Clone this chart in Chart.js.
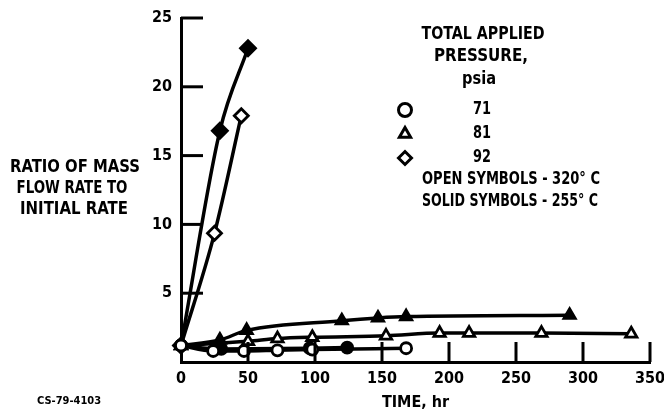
<!DOCTYPE html>
<html><head><meta charset="utf-8">
<script src="https://cdn.jsdelivr.net/npm/chart.js@4/dist/chart.umd.min.js"></script>
<style>html,body{margin:0;padding:0;background:#fff}</style>
</head><body>
<canvas id="c" width="664" height="420"></canvas>
<script>
// ---- data ----
const xTicks = [0, 50, 100, 150, 200, 250, 300, 350];
const yTicks = [0, 5, 10, 15, 20, 25];
const legendPressures = ['71', '81', '92'];
// [time hr, ratio]
const open71  = [[0,1.2],[24,0.8],[47,0.8],[72,0.85],[98,0.9],[168,1.0]];
const solid71 = [[0,1.2],[30,0.95],[96,1.0],[124,1.05]];
const open81  = [[0,1.2],[50,1.5],[72,1.7],[98,1.8],[153,1.9],[193,2.1],[215,2.1],[269,2.1],[336,2.05]];
const solid81 = [[0,1.2],[29,1.6],[49,2.3],[120,3.0],[147,3.2],[168,3.3],[290,3.4]];
const open92  = [[0,1.2],[25,9.35],[45,17.9]];
const solid92 = [[0,1.2],[29,16.8],[50,22.8]];

const FONT = "'Liberation Sans Narrow', 'DejaVu Sans Condensed', 'Roboto Condensed', sans-serif";
const pts = a => a.map(p => ({x: p[0], y: p[1]}));

function ds(data, style, solid, r) {
  return {
    data: pts(data),
    borderColor: '#000',
    borderWidth: 3.5,
    pointStyle: style,
    pointRadius: r,
    pointBorderWidth: 2.8,
    pointBorderColor: '#000',
    pointBackgroundColor: solid ? '#000' : '#fff',
    cubicInterpolationMode: 'monotone',
    fill: false,
    clip: false
  };
}

const decor = {
  id: 'decor',
  afterDatasetsDraw(chart) {
    const ctx = chart.ctx;
    const xs = chart.scales.x, ys = chart.scales.y;
    const a = chart.chartArea;
    ctx.save();
    ctx.strokeStyle = '#000';
    ctx.lineWidth = 3;
    // inward tick marks
    xTicks.forEach(v => { if (v === 0) return;
      const px = xs.getPixelForValue(v);
      ctx.beginPath(); ctx.moveTo(px, a.bottom); ctx.lineTo(px, a.bottom - 20); ctx.stroke(); });
    yTicks.forEach(v => { if (v === 0) return;
      const py = ys.getPixelForValue(v);
      ctx.beginPath(); ctx.moveTo(a.left, py); ctx.lineTo(a.left + 22, py); ctx.stroke(); });

    ctx.fillStyle = '#000';
    ctx.textBaseline = 'middle';
    // y-axis title (horizontal, three lines)
    ctx.textAlign = 'center';
    ctx.font = 'bold 18px ' + FONT;
    ctx.fillText('RATIO OF MASS', 75, 167, 130);
    ctx.fillText('FLOW RATE TO', 72, 188, 111);
    ctx.fillText('INITIAL RATE', 74, 209, 108);
    // legend header
    ctx.font = 'bold 17px ' + FONT;
    ctx.fillText('TOTAL APPLIED', 483, 35, 123);
    ctx.fillText('PRESSURE,', 481, 57, 94);
    ctx.fillText('psia', 479, 80, 34);
    // legend symbols and values
    const styles = ['circle', 'triangle', 'rectRot'];
    legendPressures.forEach((p, i) => {
      const y = 110 + i * 24;
      ctx.fillStyle = '#fff';
      ctx.lineWidth = 3;
      Chart.helpers.drawPoint(ctx, {pointStyle: styles[i], radius: 6.5, borderWidth: 3, rotation: 0}, 405, y);
      ctx.fillStyle = '#000';
      ctx.font = 'bold 17px ' + FONT;
      ctx.textAlign = 'center';
      ctx.fillText(p, 482, y, 18);
    });
    ctx.textAlign = 'left';
    ctx.font = 'bold 17px ' + FONT;
    ctx.fillText('OPEN SYMBOLS - 320\u00B0 C', 422, 180, 178);
    ctx.fillText('SOLID SYMBOLS - 255\u00B0 C', 422, 202, 176);
    // figure code
    ctx.font = 'bold 11px ' + FONT;
    ctx.fillText('CS-79-4103', 37, 401, 75);
    ctx.restore();
  }
};

new Chart(document.getElementById('c'), {
  type: 'line',
  data: { datasets: [
    ds(open71, 'circle', false, 5.5),
    ds(solid71, 'circle', true, 5.5),
    ds(open81, 'triangle', false, 6.5),
    ds(solid81, 'triangle', true, 6.5),
    ds(open92, 'rectRot', false, 7),
    ds(solid92, 'rectRot', true, 7.5)
  ]},
  options: {
    responsive: false,
    animation: false,
    devicePixelRatio: 1,
    layout: { padding: { left: 0, top: 18, right: 14, bottom: 0 } },
    plugins: { legend: { display: false }, tooltip: { enabled: false } },
    scales: {
      x: {
        type: 'linear', min: 0, max: 350,
        afterBuildTicks: s => { s.ticks = xTicks.map(v => ({value: v})); },
        afterFit: s => { s.height = 58; s.paddingLeft = 0; s.paddingRight = 0; },
        grid: { drawOnChartArea: false, drawTicks: false },
        border: { display: true, color: '#000', width: 3 },
        ticks: { color: '#000', padding: 7, maxRotation: 0, autoSkip: false,
                 font: { family: FONT, size: 16, weight: 'bold' } },
        title: { display: true, text: 'TIME, hr', color: '#000', padding: { top: 2, bottom: 8 },
                 font: { family: FONT, size: 16, weight: 'bold' } }
      },
      y: {
        type: 'linear', min: 0, max: 25,
        afterBuildTicks: s => { s.ticks = yTicks.map(v => ({value: v})); },
        afterFit: s => { s.width = 181; s.paddingTop = 0; s.paddingBottom = 0; },
        grid: { drawOnChartArea: false, drawTicks: false },
        border: { display: true, color: '#000', width: 3 },
        ticks: { color: '#000', padding: 9, autoSkip: false,
                 callback: v => v === 0 ? '' : String(v),
                 font: { family: FONT, size: 16, weight: 'bold' } }
      }
    }
  },
  plugins: [decor]
});
</script>
</body></html>
